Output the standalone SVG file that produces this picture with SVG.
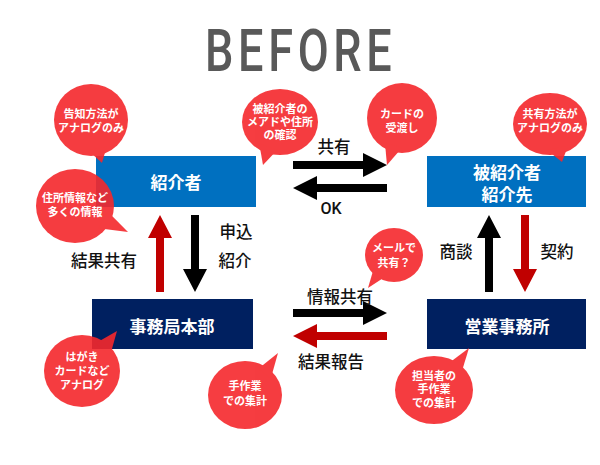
<svg xmlns="http://www.w3.org/2000/svg" width="600" height="465" viewBox="0 0 600 465">
<style>
.title{font-family:Roboto,"Liberation Sans",sans-serif;font-size:60px;font-weight:500;fill:#595959}
.bt{font-family:"Noto Sans CJK JP","Noto Sans",sans-serif;font-size:17px;font-weight:700;fill:#fff;text-anchor:middle;dominant-baseline:central}
.lb{font-family:"Noto Sans CJK JP","Noto Sans",sans-serif;font-size:16.5px;font-weight:500;fill:#111;text-anchor:middle;dominant-baseline:central}
.bb text{font-family:"Noto Sans CJK JP","Noto Sans",sans-serif;font-size:11px;font-weight:700;fill:#fff;text-anchor:middle;dominant-baseline:central}
.bub{fill:#f5282c;opacity:0.9}
.blue{fill:#0070c0}
.navy{fill:#002060}
.blk{fill:#000}
.red{fill:#c00000}
</style>
<rect width="600" height="465" fill="#fff"/>
<text class="title" transform="translate(205,71) scale(0.75,1)" x="0" y="0" textLength="249" lengthAdjust="spacing">BEFORE</text>

<g id="connectors">
  <polygon class="red" points="156,292 164,292 164,238 172,238 160,215 148,238 156,238"/>
  <polygon class="blk" points="191,215 199,215 199,269 207,269 195,292 183,269 191,269"/>
  <polygon class="blk" points="485,292 493,292 493,238 501,238 489,215 477,238 485,238"/>
  <polygon class="red" points="521,215 529,215 529,269 537,269 525,292 513,269 521,269"/>
  <polygon class="blk" points="293,161 363,161 363,153 387,165 363,177 363,169 293,169"/>
  <polygon class="blk" points="387,184 317,184 317,176 293,188 317,200 317,192 387,192"/>
  <polygon class="blk" points="293,309 363,309 363,301 387,313 363,325 363,317 293,317"/>
  <polygon class="red" points="387,332 317,332 317,324 293,336 317,348 317,340 387,340"/>
  <text class="lb" x="334" y="146">共有</text>
  <text class="lb" x="331" y="208" style="font-family:Roboto,'Noto Sans',sans-serif;font-weight:500;font-size:16px">OK</text>
  <text class="lb" x="340" y="296">情報共有</text>
  <text class="lb" x="331" y="361">結果報告</text>
  <text class="lb" x="236" y="231">申込</text>
  <text class="lb" x="235" y="260">紹介</text>
  <text class="lb" x="104" y="260">結果共有</text>
  <text class="lb" x="456" y="251">商談</text>
  <text class="lb" x="557" y="251">契約</text>
</g>

<g id="node-shoukaisha">
  <rect class="blue" x="96" y="156" width="160" height="51"/>
  <text class="bt" x="176" y="181">紹介者</text>
</g>
<g id="node-hishoukaisha">
  <rect class="blue" x="427" y="156" width="159" height="51"/>
  <text class="bt" x="507" y="171">被紹介者</text>
  <text class="bt" x="507" y="193">紹介先</text>
</g>
<g id="node-honbu">
  <rect class="navy" x="92" y="299" width="161" height="50"/>
  <text class="bt" x="172" y="325">事務局本部</text>
</g>
<g id="node-eigyo">
  <rect class="navy" x="427" y="299" width="159" height="50"/>
  <text class="bt" x="507" y="325">営業事務所</text>
</g>

<g id="bubble-1" class="bb">
  <g class="bub"><ellipse cx="91" cy="120" rx="37" ry="36"/><polygon points="106.7,146.5 102,163 88.3,150.5"/></g>
  <text x="91" y="113">告知方法が</text>
  <text x="91" y="127">アナログのみ</text>
</g>
<g id="bubble-2" class="bb">
  <g class="bub"><ellipse cx="75" cy="206" rx="39" ry="37"/><polygon points="107.7,211.5 128,232 98.5,228.3"/></g>
  <text x="75" y="196.5">住所情報など</text>
  <text x="75" y="210.5">多くの情報</text>
</g>
<g id="bubble-3" class="bb">
  <g class="bub"><ellipse cx="280" cy="122" rx="38" ry="33"/><polygon points="277.2,149.9 263,165 259.2,143.5"/></g>
  <text x="280" y="107.5">被紹介者の</text>
  <text x="280" y="120.5">メアドや住所</text>
  <text x="280" y="133.5">の確認</text>
</g>
<g id="bubble-4" class="bb">
  <g class="bub"><ellipse cx="402" cy="118" rx="35" ry="35"/><polygon points="402,147.8 387,165 384.9,142.4"/></g>
  <text x="402" y="113">カードの</text>
  <text x="402" y="127">受渡し</text>
</g>
<g id="bubble-5" class="bb">
  <g class="bub"><ellipse cx="550" cy="124" rx="37" ry="31"/><polygon points="568.1,145.6 562,162 547.3,150.3"/></g>
  <text x="550" y="113">共有方法が</text>
  <text x="550" y="126.5">アナログのみ</text>
</g>
<g id="bubble-6" class="bb">
  <g class="bub"><ellipse cx="82" cy="371" rx="38" ry="36"/><polygon points="95.6,343.3 117,331 110,355.7"/></g>
  <text x="82" y="355.5">はがき</text>
  <text x="82" y="369.5">カードなど</text>
  <text x="82" y="383.5">アナログ</text>
</g>
<g id="bubble-7" class="bb">
  <g class="bub"><ellipse cx="245" cy="395" rx="37" ry="34"/><polygon points="258.3,368.8 278,353 270.8,378.4"/></g>
  <text x="245" y="385">手作業</text>
  <text x="245" y="400">での集計</text>
</g>
<g id="bubble-8" class="bb">
  <g class="bub"><ellipse cx="394" cy="255" rx="29" ry="27"/><polygon points="385.6,276.6 368,288 373.8,268.2"/></g>
  <text x="394" y="247">メールで</text>
  <text x="394" y="262">共有？</text>
</g>
<g id="bubble-9" class="bb">
  <g class="bub"><ellipse cx="434" cy="390" rx="39" ry="34"/><polygon points="448,363.8 469,348 461.2,373.4"/></g>
  <text x="434" y="374.5">担当者の</text>
  <text x="434" y="388">手作業</text>
  <text x="434" y="402">での集計</text>
</g>
</svg>
